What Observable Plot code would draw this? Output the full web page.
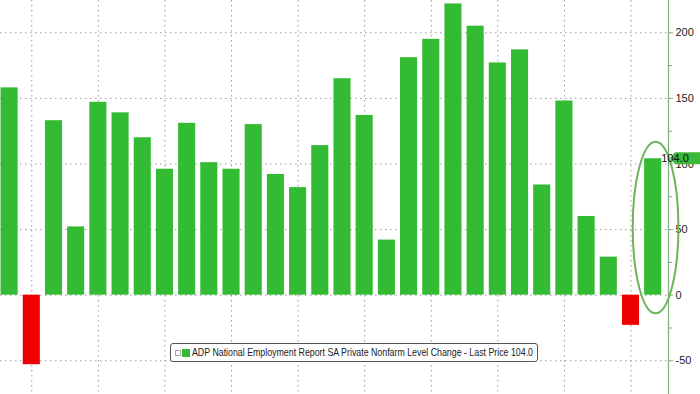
<!DOCTYPE html>
<html>
<head>
<meta charset="utf-8">
<script src="https://cdn.jsdelivr.net/npm/d3@7"></script>
<script src="https://cdn.jsdelivr.net/npm/@observablehq/plot@0.6"></script>
<style>
  html, body { margin: 0; padding: 0; background: #fff; }
  #wrap { position: relative; width: 700px; height: 394px; overflow: hidden; }
  #legend {
    position: absolute; left: 170px; top: 343px; width: 368px; height: 19px;
    box-sizing: border-box; border: 1px solid #555; border-radius: 3px; background: #fff;
    font-family: "Liberation Sans", Arial, sans-serif; font-size: 11px; color: #222;
    white-space: nowrap;
  }
  #legend .ico { position: absolute; left: 4px; top: 6px; width: 4px; height: 4px; border: 1px solid #aaa; }
  #legend .sw { position: absolute; left: 11px; top: 5px; width: 8px; height: 8px; background: #33bb33; }
  #legend .txt { position: absolute; left: 21px; top: 2px; transform-origin: 0 0; }
</style>
</head>
<body>
<div id="wrap">
  <div id="chart"></div>
  <div id="legend"><span class="ico"></span><span class="sw"></span><span class="txt" id="legtxt"></span></div>
</div>
<script>
// Monthly values (thousands), oldest to newest
const values = [158, -53, 133, 52, 147, 139, 120, 96, 131, 101, 96, 130, 92, 82, 114, 165,
                137, 42, 181, 195, 222, 205, 177, 187, 84, 148, 60, 29, -23, 104];
const majorTicks = [200, 150, 100, 50, 0, -50];
const minorTicks = [175, 125, 75, 25, -25];
const gridX = [1, 4, 7, 10, 13, 16, 19, 22, 25, 28];
const lastPrice = 104.0;
const legendText = "ADP National Employment Report SA Private Nonfarm Level Change - Last Price 104.0";

const data = values.map((v, i) => ({i, v}));
const GREEN = "#33bb33", RED = "#ee0000";
const half = 0.385;

const chart = Plot.plot({
  width: 700, height: 394,
  marginLeft: 0, marginRight: 32, marginTop: 0, marginBottom: 0,
  style: {background: "#fff", fontFamily: "Liberation Sans, Arial, sans-serif"},
  x: {type: "linear", domain: [-0.41, 29.69], axis: null},
  y: {domain: [-75.7, 224.6], axis: null, label: null},
  marks: [
    Plot.ruleY(majorTicks, {stroke: "#999", strokeWidth: 1, strokeDasharray: "1.5,3.5"}),
    Plot.ruleX(gridX, {stroke: "#999", strokeWidth: 1, strokeDasharray: "1.5,3.5"}),
    Plot.rectY(data, {x1: d => d.i - half, x2: d => d.i + half, y1: 0, y2: "v",
                      fill: d => d.v < 0 ? RED : GREEN}),
    Plot.axisY(majorTicks, {anchor: "right", label: null, tickSize: 4, tickPadding: 3, stroke: "#7fae7f",
                            color: "#222", fontSize: 11, tickFormat: d => String(d)}),
    Plot.axisY(minorTicks, {anchor: "right", label: null, tickSize: 3, stroke: "#7fae7f", tickFormat: () => ""}),
    Plot.ruleX([29.69], {stroke: "#7fae7f", strokeWidth: 1.2}),
    // ellipse highlighting the last bar, and the last-price tag
    (index, scales) => {
      const g = d3.create("svg:g");
      const xs = scales.x, ys = scales.y;
      const cx = xs(29.13), cy = ys(51.2);
      const rx = xs(29.13) - xs(29.13 - 1.03), ry = ys(-14.2) - ys(51.2);
      g.append("ellipse").attr("cx", cx).attr("cy", cy).attr("rx", rx).attr("ry", ry)
        .attr("fill", "none").attr("stroke", "#6db55a").attr("stroke-width", 2);
      const ax = xs(29.69) + 2, ty = ys(lastPrice);
      g.append("path")
        .attr("d", `M${ax},${ty} L${ax + 5},${ty - 6} L700,${ty - 6} L700,${ty + 6} L${ax + 5},${ty + 6} Z`)
        .attr("fill", "#3cb83c");
      g.append("text").attr("x", ax + 5).attr("y", ty + 4)
        .attr("font-size", 11).attr("fill", "#111")
        .attr("font-family", "Liberation Sans, Arial, sans-serif")
        .text(lastPrice.toFixed(1));
      return g.node();
    }
  ]
});
document.getElementById("chart").appendChild(chart);

const t = document.getElementById("legtxt");
t.textContent = legendText;
const w = t.getBoundingClientRect().width;
t.style.transform = `scaleX(${341 / w})`;
</script>
</body>
</html>
